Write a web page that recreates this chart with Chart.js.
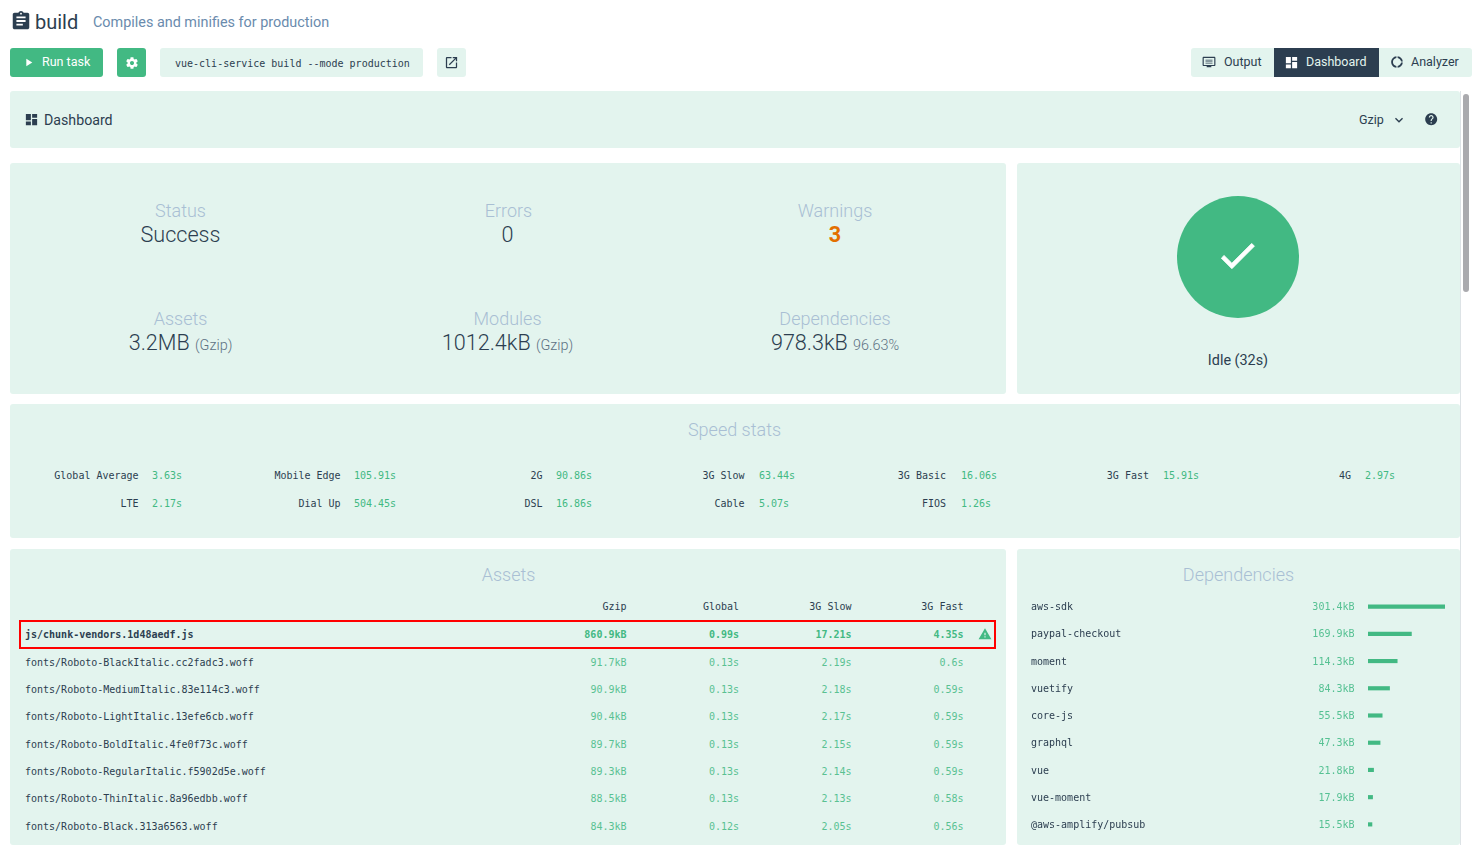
<!DOCTYPE html>
<html><head><meta charset="utf-8"><title>build dashboard</title>
<script src="https://cdn.jsdelivr.net/npm/chart.js@4"></script>
<style>
html,body{margin:0;padding:0;width:1482px;height:858px;overflow:hidden;background:#fff;font-family:Roboto,sans-serif;color:#2c3e50}
.a{position:absolute;white-space:nowrap}
.p{position:absolute;background:#e3f4ee;border-radius:3px}
.m{font-family:"DejaVu Sans Mono",monospace;font-size:10px;line-height:14px}
.g{color:#42b983}
.r{text-align:right}.c{text-align:center}
.btn{position:absolute;top:48px;height:29px;border-radius:3px;background:#e3f4ee}
.lab{font-weight:300;font-size:18px;line-height:22px;color:#a9bfd4;text-align:center;width:300px}
.val{font-weight:300;font-size:21.6px;line-height:26px;text-align:center;width:300px}
.val small{font-size:14.4px;color:#5d7183}
.head{font-weight:300;font-size:18px;line-height:22px;color:#a9bfd4;text-align:center}
svg{position:absolute;display:block}
</style></head><body>
<div id="root"></div>
<script>
const speedLabels=["Global Average","Mobile Edge","2G","3G Slow","3G Basic","3G Fast","4G","LTE","Dial Up","DSL","Cable","FIOS"];
const speedValues=["3.63s","105.91s","90.86s","63.44s","16.06s","15.91s","2.97s","2.17s","504.45s","16.86s","5.07s","1.26s"];
const assetNames=["js/chunk-vendors.1d48aedf.js","fonts/Roboto-BlackItalic.cc2fadc3.woff","fonts/Roboto-MediumItalic.83e114c3.woff","fonts/Roboto-LightItalic.13efe6cb.woff","fonts/Roboto-BoldItalic.4fe0f73c.woff","fonts/Roboto-RegularItalic.f5902d5e.woff","fonts/Roboto-ThinItalic.8a96edbb.woff","fonts/Roboto-Black.313a6563.woff"];
const assetGzip=["860.9kB","91.7kB","90.9kB","90.4kB","89.7kB","89.3kB","88.5kB","84.3kB"];
const assetGlobal=["0.99s","0.13s","0.13s","0.13s","0.13s","0.13s","0.13s","0.12s"];
const asset3GSlow=["17.21s","2.19s","2.18s","2.17s","2.15s","2.14s","2.13s","2.05s"];
const asset3GFast=["4.35s","0.6s","0.59s","0.59s","0.59s","0.59s","0.58s","0.56s"];
const depNames=["aws-sdk","paypal-checkout","moment","vuetify","core-js","graphql","vue","vue-moment","@aws-amplify/pubsub"];
const depSizes=[301.4,169.9,114.3,84.3,55.5,47.3,21.8,17.9,15.5];

const ICON={
clip:"M19 3h-4.18C14.4 1.84 13.3 1 12 1c-1.3 0-2.4.84-2.82 2H5c-1.1 0-2 .9-2 2v14c0 1.1.9 2 2 2h14c1.1 0 2-.9 2-2V5c0-1.1-.9-2-2-2zm-7 0c.55 0 1 .45 1 1s-.45 1-1 1-1-.45-1-1 .45-1 1-1zm2 14H7v-2h7v2zm3-4H7v-2h10v2zm0-4H7V7h10v2z",
dash:"M3 13h8V3H3v10zm0 8h8v-6H3v6zm10 0h8V11h-8v10zm0-18v6h8V3h-8z",
gear:"M19.43 12.98c.04-.32.07-.64.07-.98s-.03-.66-.07-.98l2.11-1.65c.19-.15.24-.42.12-.64l-2-3.46c-.12-.22-.39-.3-.61-.22l-2.49 1c-.52-.4-1.08-.73-1.69-.98l-.38-2.65C14.46 2.18 14.25 2 14 2h-4c-.25 0-.46.18-.49.42l-.38 2.65c-.61.25-1.17.59-1.69.98l-2.49-1c-.23-.09-.49 0-.61.22l-2 3.46c-.13.22-.07.49.12.64l2.11 1.65c-.04.32-.07.65-.07.98s.03.66.07.98l-2.11 1.65c-.19.15-.24.42-.12.64l2 3.46c.12.22.39.3.61.22l2.49-1c.52.4 1.08.73 1.69.98l.38 2.65c.03.24.24.42.49.42h4c.25 0 .46-.18.49-.42l.38-2.65c.61-.25 1.17-.59 1.69-.98l2.49 1c.23.09.49 0 .61-.22l2-3.46c.12-.22.07-.49-.12-.64l-2.11-1.65zM12 15.5c-1.93 0-3.5-1.57-3.5-3.5s1.57-3.5 3.5-3.5 3.5 1.57 3.5 3.5-1.57 3.5-3.5 3.5z",
open:"M19 19H5V5h7V3H5c-1.11 0-2 .9-2 2v14c0 1.1.89 2 2 2h14c1.1 0 2-.9 2-2v-7h-2v7zM14 3v2h3.59l-9.83 9.83 1.41 1.41L19 6.41V10h2V3h-7z",
help:"M12 2C6.48 2 2 6.48 2 12s4.48 10 10 10 10-4.48 10-10S17.52 2 12 2zm1 17h-2v-2h2v2zm2.07-7.75l-.9.92C13.45 12.9 13 13.5 13 15h-2v-.5c0-1.1.45-2.1 1.17-2.83l1.24-1.26c.37-.36.59-.86.59-1.41 0-1.1-.9-2-2-2s-2 .9-2 2H8c0-2.21 1.79-4 4-4s4 1.79 4 4c0 .88-.36 1.68-.93 2.25z",
warn:"M1 21h22L12 2 1 21zm12-3h-2v-2h2v2zm0-4h-2v-4h2v4z",
check:"M9 16.17L4.83 12l-1.42 1.41L9 19 21 7l-1.41-1.41z",
chev:"M7.41 8.59L12 13.17l4.59-4.58L18 10l-6 6-6-6z",
play:"M8 5v14l11-7z",
tv:"M21 3H3c-1.1 0-2 .9-2 2v12c0 1.1.9 2 2 2h5v2h8v-2h5c1.1 0 2-.9 2-2V5c0-1.1-.9-2-2-2zm0 14H3V5h18v12zM6 8h12v1.5H6zm0 3h12v1.5H6zm0 3h12v1.200H6z",
donut:"M11 5.08V2c-5 .5-9 4.81-9 10s4 9.5 9 10v-3.08c-3-.48-6-3.4-6-6.92s3-6.44 6-6.92zM18.97 11H22c-.47-5-4-8.53-9-9v3.08C16 5.51 18.39 8 18.97 11zM13 18.92V22c5-.47 8.53-4 9-9h-3.03c-.58 3-2.97 5.49-5.97 5.92z"};
let h="";
const ic=(n,x,y,s,col,sw=0)=>{h+=`<svg style="left:${x}px;top:${y}px" width="${s}" height="${s}" viewBox="0 0 24 24"><path fill="${col}" stroke="${col}" stroke-width="${sw}" d="${ICON[n]}"/></svg>`};
const box=(x,y,w,ht,extra="")=>{h+=`<div class="p" style="left:${x}px;top:${y}px;width:${w}px;height:${ht}px;${extra}"></div>`};
const txt=(s,x,y,cls,st="")=>{h+=`<div class="a ${cls}" style="left:${x}px;top:${y}px;${st}">${s}</div>`};
const rtxt=(s,xr,y,cls,st="")=>{h+=`<div class="a ${cls} r" style="left:${xr-400}px;width:400px;top:${y}px;${st}">${s}</div>`};

// header
ic("clip",10,10,22,"#2c3e50");
txt("build",35,10,"","font-size:20px;line-height:24px");
txt("Compiles and minifies for production",93,14,"","font-size:14.4px;line-height:18px;color:#6a8bad");
// toolbar
h+=`<div class="btn" style="left:10px;width:93px;background:#42b983"></div>`;
ic("play",22,56,13,"#fff");
txt("Run task",42,54,"","font-size:12.5px;line-height:16px;color:#fff");
h+=`<div class="btn" style="left:117px;width:29px;background:#42b983"></div>`;
ic("gear",124.5,55.5,14,"#fff");
h+=`<div class="btn" style="left:160px;width:263px"></div>`;
txt("vue-cli-service build --mode production",175,56.5,"m");
h+=`<div class="btn" style="left:437px;width:29px"></div>`;
ic("open",444,55,15,"#2c3e50");
// tabs
h+=`<div class="btn" style="left:1191px;width:281px"></div>`;
h+=`<div class="btn" style="left:1274px;width:105px;background:#2c3e50;border-radius:0"></div>`;
ic("tv",1202,55,14,"#2c3e50");
txt("Output",1224,54,"","font-size:12.5px;line-height:16px");
ic("dash",1284,54.5,15,"#fff");
txt("Dashboard",1306,54,"","font-size:12.5px;line-height:16px;color:#e3f4ee");
ic("donut",1390,55,14,"#2c3e50");
txt("Analyzer",1411,54,"","font-size:12.5px;line-height:16px");
// dashboard bar
box(10,91,1450,57);
ic("dash",24,112,15,"#2c3e50");
txt("Dashboard",44,111,"","font-size:14.2px;line-height:18px");
txt("Gzip",1359,112,"","font-size:12.5px;line-height:16px");
ic("chev",1391,111.5,16,"#2c3e50");
ic("help",1424,112,14.4,"#2c3e50");
// stats
box(10,163,996,231);
const col=[180.5,508.5,835];
[["Status","Success"],["Errors","0"],["Warnings",'<b style="font-weight:700;color:#e36f00">3</b>'],
 ["Assets",'3.2MB <small>(Gzip)</small>'],["Modules",'1012.4kB <small>(Gzip)</small>'],["Dependencies",'978.3kB <small>96.63%</small>']].forEach((s,i)=>{
  const y=i<3?200:308, x=col[i%3]-150;
  txt(s[0],x-(i==4?1:0),y,"lab"); txt(s[1],x-(i%3==1?1:0),y+22,"val");
});
// idle
box(1017,163,443,231);
h+=`<div class="a" style="left:1177px;top:196px;width:122px;height:122px;border-radius:50%;background:#42b983"></div>`;
ic("check",1215.4,232.5,45,"#fff",0.5);
txt("Idle (32s)",1138,352,"c","width:200px;font-size:14.4px;line-height:18px");
// speed stats
box(10,404,1450,134);
txt("Speed stats",9.5,419,"head","width:1450px");
const lr=[138.6,340.6,542.6,744.6,946,1149,1351];
const vx=[152,354,556,759,961,1163,1365];
speedLabels.forEach((l,i)=>{const c=i%7,y=i<7?468.500:496.500;
  rtxt(l,lr[c],y,"m"); txt(speedValues[i],vx[c],y,"m g");});
// assets
box(10,549,996,296);
txt("Assets",10.500,564,"head","width:996px");
const ax=[626.5,739,851.5,963.5];
["Gzip","Global","3G Slow","3G Fast"].forEach((l,i)=>rtxt(l,ax[i],600,"m"));
const ay=[628,656,683,710,738,765,792,820];
assetNames.forEach((n,i)=>{const b=i==0?"font-weight:700;":"";const op=i==0?"":"opacity:.85;";
  txt(n,25,ay[i],"m",b);
  [assetGzip,assetGlobal,asset3GSlow,asset3GFast].forEach((a,k)=>rtxt(a[i],ax[k],ay[i],"m g",b+op));
});
h+=`<div class="a" style="left:19px;top:620px;width:973px;height:25px;border:2px solid #f00"></div>`;
ic("warn",978,627,14,"#42b983");
// deps panel
box(1017,549,443,296);
txt("Dependencies",1017,564,"head","width:443px");
// scrollbar
h+=`<div class="a" style="left:1460px;top:91px;width:1px;height:754px;background:#dde3e6"></div>`;
h+=`<div class="a" style="left:1463px;top:94px;width:6px;height:198px;border-radius:3px;background:#aaaaae"></div>`;
h+=`<div class="a" style="left:1017px;top:587px;width:443px;height:257px"><canvas id="deps" width="443" height="257"></canvas></div>`;
document.getElementById("root").innerHTML=h;

const sizeLabels={id:"sizeLabels",afterDatasetsDraw(c){
  const g=c.ctx,y=c.scales.y,x=c.scales.x;
  g.save();g.font='10px "DejaVu Sans Mono"';g.fillStyle="#56c193";g.textAlign="right";g.textBaseline="middle";
  depSizes.forEach((v,i)=>g.fillText(v.toFixed(1)+"kB",x.left-13.5,y.getPixelForValue(i)+1));
  g.restore();
}};
new Chart(document.getElementById("deps"),{
  type:"bar",
  data:{labels:depNames,datasets:[{data:depSizes,backgroundColor:"#42b983",barThickness:3.5,borderWidth:0}]},
  plugins:[sizeLabels],
  options:{indexAxis:"y",responsive:false,animation:false,devicePixelRatio:1,
    layout:{padding:{left:14,right:15,top:0,bottom:0}},
    plugins:{legend:{display:false},tooltip:{enabled:false},title:{display:false}},
    scales:{
      x:{display:false,min:0,max:301.4},
      y:{grid:{display:false},border:{display:false},
         afterFit(s){s.width=337},
         ticks:{crossAlign:"far",color:"#2c3e50",font:{family:'"DejaVu Sans Mono"',size:10},autoSkip:false,padding:0,labelOffset:1}}
    }}
});
</script>
</body></html>
